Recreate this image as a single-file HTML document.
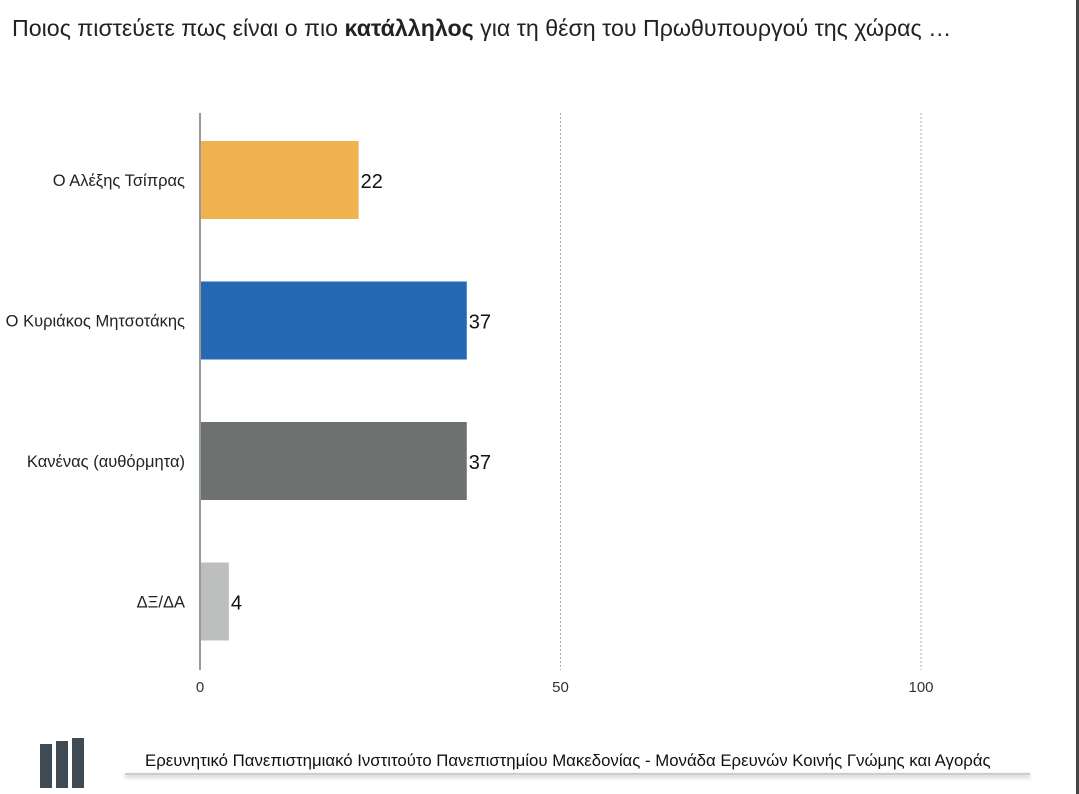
<!DOCTYPE html>
<html><head><meta charset="utf-8"><style>
body{margin:0;width:1079px;height:794px;background:#fff;overflow:hidden;position:relative;font-family:"Liberation Sans","DejaVu Sans",sans-serif}
#title{position:absolute;left:12px;top:15px;font-size:23.2px;color:#222;white-space:nowrap}
#strip{position:absolute;right:0;top:0;width:3px;height:794px;background:#444}
#footer{position:absolute;left:145px;top:751px;font-size:16.8px;color:#111;white-space:nowrap}
#fline{position:absolute;left:125px;top:773px;width:905px;height:2px;background:#ccc;box-shadow:0 2px 4px #aaa}
</style></head><body>
<div id="title">Ποιος πιστεύετε πως είναι ο πιο <b>κατάλληλος</b> για τη θέση του Πρωθυπουργού της χώρας …</div>
<div id="strip"></div>
<svg id="chart" width="1079" height="794" style="position:absolute;left:0;top:0"></svg>
<div style="position:absolute;left:40px;top:738px;width:46px;height:50px">
<div style="position:absolute;left:0;top:6px;width:12px;height:44px;background:#3f4a52"></div>
<div style="position:absolute;left:16px;top:3px;width:12px;height:47px;background:#3f4a52"></div>
<div style="position:absolute;left:32px;top:0;width:12px;height:50px;background:#3f4a52"></div>
</div>
<div id="footer">Ερευνητικό Πανεπιστημιακό Ινστιτούτο Πανεπιστημίου Μακεδονίας - Μονάδα Ερευνών Κοινής Γνώμης και Αγοράς</div>
<div id="fline"></div>
<script>
const categories=["Ο Αλέξης Τσίπρας","Ο Κυριάκος Μητσοτάκης","Κανένας (αυθόρμητα)","ΔΞ/ΔΑ"];
const values=[22,37,37,4];
const colors=["#efb24f","#2568b3","#6d7270","#bcbfbe"];
const ticks=[0,50,100];
const svg=document.getElementById('chart');
const NS="http://www.w3.org/2000/svg";
const x=v=>200+v*7.21;
const y=i=>141+i*140.5;
const bh=78;
function mk(t,a){const e=document.createElementNS(NS,t);for(const k in a)e.setAttribute(k,a[k]);svg.appendChild(e);return e;}
ticks.forEach(t=>{
  if(t>0){const g=mk('line',{x1:x(t),x2:x(t),y1:113,y2:670,stroke:'#aaa','stroke-dasharray':'2,2'});
  
  }
  const l=mk('text',{x:x(t),y:692,'font-size':15,'text-anchor':'middle',fill:'#333'});l.textContent=t;
  
  
});
const ax=mk('line',{x1:200,x2:200,y1:113,y2:670,stroke:'#333','stroke-width':1});


categories.forEach((c,i)=>{
  const r=mk('rect',{x:x(0)+1,y:y(i),width:x(values[i])-x(0)-1,height:bh,fill:colors[i]});
  
  
  const v=mk('text',{x:x(values[i])+2,y:y(i)+bh/2+8,'font-size':20,fill:'#111'});v.textContent=values[i];
  
  
  const l=mk('text',{x:185,y:y(i)+bh/2+6,'font-size':16.5,'text-anchor':'end',fill:'#222'});l.textContent=c;
  
  
});
</script>
</body></html>
